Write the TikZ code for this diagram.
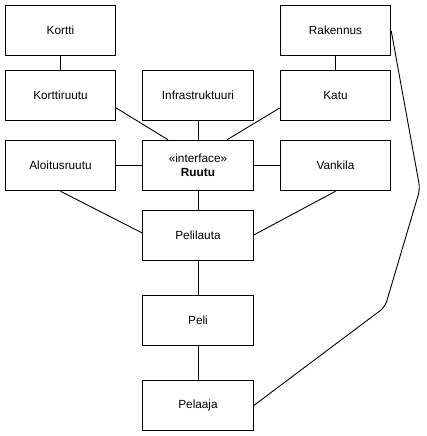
\documentclass[tikz,border=0pt]{standalone}
\usepackage{fontspec}
\setmainfont{Liberation Sans}
\begin{document}
\begin{tikzpicture}[x=1pt,y=-1pt,
  cls/.style={draw=black,line width=1pt,minimum width=110.5pt,minimum height=50.5pt,inner sep=0pt,font=\fontsize{11.8}{14}\selectfont,align=center},
  conn/.style={draw=black,line width=0.9pt}]
\useasboundingbox (0,0) rectangle (427,436);
\node[cls] (kortti) at (60.5,30.5) {Kortti};
\node[cls] (rakennus) at (335.5,30.5) {Rakennus};
\node[cls] (korttiruutu) at (60.5,95.5) {Korttiruutu};
\node[cls] (infra) at (198,95.5) {Infrastruktuuri};
\node[cls] (katu) at (335.5,95.5) {Katu};
\node[cls] (aloitus) at (60.5,165.5) {Aloitusruutu};
\node[cls] (ruutu) at (198,165.5) {«interface»\\\textbf{Ruutu}};
\node[cls] (vankila) at (335.5,165.5) {Vankila};
\node[cls] (pelilauta) at (198,235.5) {Pelilauta};
\node[cls] (peli) at (198,320.5) {Peli};
\node[cls] (pelaaja) at (198,405.5) {Pelaaja};
\coordinate (c1) at (420,189);
\coordinate (c2) at (385,307);
\draw[conn] (kortti) -- (korttiruutu);
\draw[conn] (rakennus) -- (katu);
\draw[conn] (korttiruutu.south east |- 0,108) -- (ruutu.north -| 168,0);
\draw[conn] (infra) -- (ruutu);
\draw[conn] (katu.south west |- 0,108) -- (ruutu.north -| 227,0);
\draw[conn] (aloitus) -- (ruutu);
\draw[conn] (vankila) -- (ruutu);
\draw[conn] (ruutu) -- (pelilauta);
\draw[conn] (aloitus.south) -- (pelilauta.west |- 0,233);
\draw[conn] (vankila.south) -- (pelilauta.east |- 0,235);
\draw[conn] (pelilauta) -- (peli);
\draw[conn] (peli) -- (pelaaja);
\draw[conn,rounded corners=6pt] (rakennus.east |- 0,31) -- (c1) -- (c2) -- (pelaaja.east);
\end{tikzpicture}
\end{document}
